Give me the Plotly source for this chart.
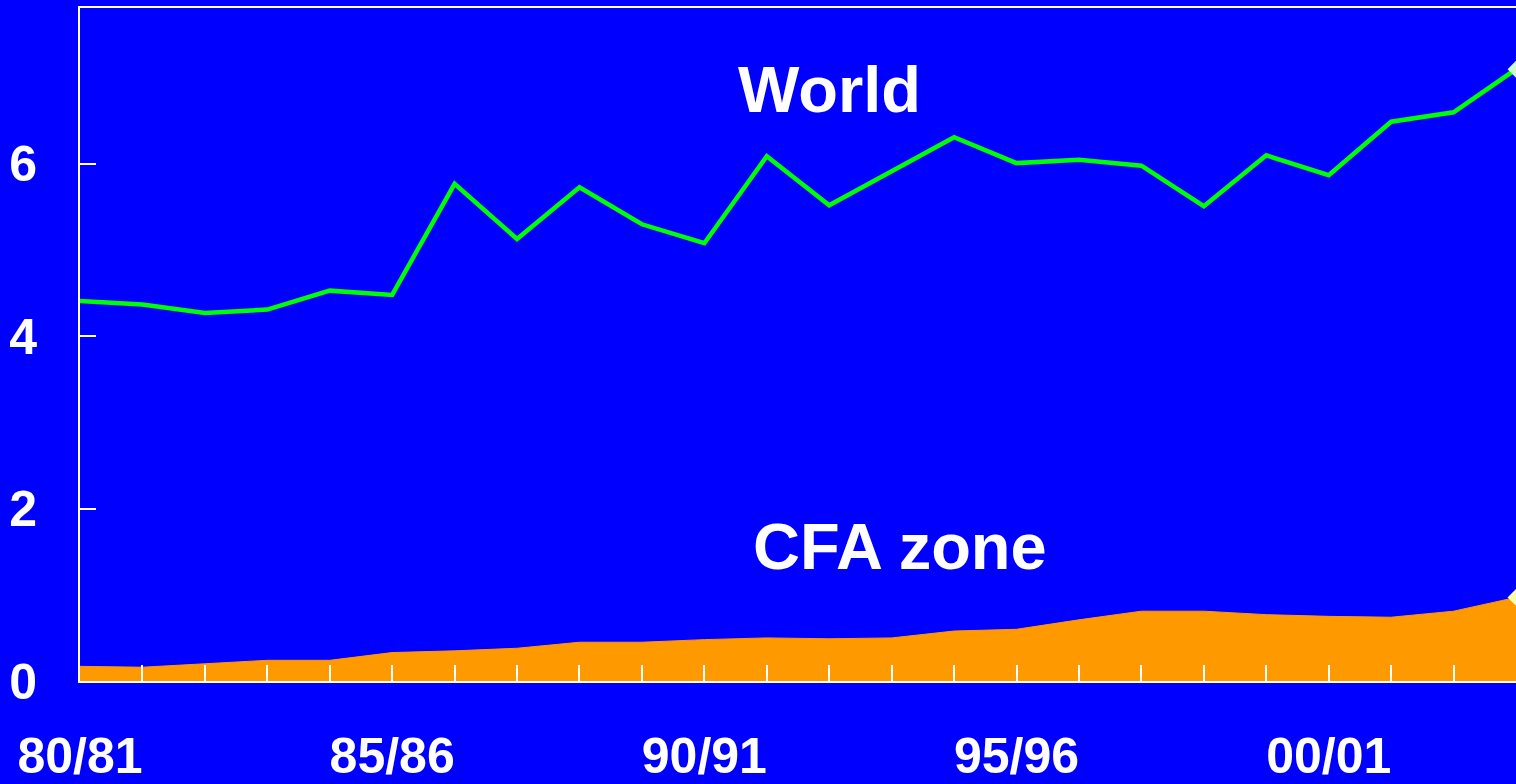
import plotly.graph_objects as go

seasons = ["80/81", "81/82", "82/83", "83/84", "84/85", "85/86", "86/87", "87/88",
           "88/89", "89/90", "90/91", "91/92", "92/93", "93/94", "94/95", "95/96",
           "96/97", "97/98", "98/99", "99/00", "00/01", "01/02", "02/03", "03/04"]
world = [4.41, 4.37, 4.27, 4.31, 4.53, 4.48, 5.77, 5.13, 5.73, 5.30, 5.08, 6.09,
         5.52, 5.92, 6.31, 6.01, 6.05, 5.98, 5.51, 6.10, 5.87, 6.49, 6.60, 7.10]
cfa = [0.17, 0.16, 0.20, 0.24, 0.24, 0.33, 0.35, 0.38, 0.45, 0.45, 0.48, 0.50,
       0.49, 0.50, 0.58, 0.60, 0.71, 0.81, 0.81, 0.77, 0.75, 0.74, 0.81, 0.97]
labelled = ["80/81", "85/86", "90/91", "95/96", "00/01"]
ytick_vals = [0, 2, 4, 6]

FONT = "Liberation Sans, Arial, sans-serif"
BLUE = "#0000FF"

fig = go.Figure()
fig.add_trace(go.Scatter(x=seasons, y=cfa, mode="lines", fill="tozeroy",
                         fillcolor="#FF9900", line=dict(color="#FF9900", width=1),
                         hoverinfo="skip"))
fig.add_trace(go.Scatter(x=seasons, y=world, mode="lines",
                         line=dict(color="#00FF00", width=4.5), hoverinfo="skip"))
fig.add_trace(go.Scatter(x=[seasons[-1]], y=[world[-1]], mode="markers",
                         marker=dict(symbol="diamond", size=13, color="#CCFFCC"),
                         hoverinfo="skip"))
fig.add_trace(go.Scatter(x=[seasons[-1]], y=[cfa[-1]], mode="markers",
                         marker=dict(symbol="diamond", size=13, color="#FFFFAA"),
                         hoverinfo="skip"))

fig.add_annotation(x=12.0, y=6.86, xref="x", yref="y", text="World", showarrow=False,
                   font=dict(family=FONT, size=65, color="white", weight="bold"),
                   xanchor="center", yanchor="middle")
fig.add_annotation(x=13.13, y=1.56, xref="x", yref="y", text="CFA zone", showarrow=False,
                   font=dict(family=FONT, size=65, color="white", weight="bold"),
                   xanchor="center", yanchor="middle")

fig.update_layout(
    width=1516, height=784,
    margin=dict(l=80, r=0, t=8, b=103),
    paper_bgcolor=BLUE, plot_bgcolor=BLUE,
    showlegend=False,
    font=dict(family=FONT, color="white", size=50, weight="bold"),
)
fig.update_xaxes(
    type="category", range=[0, len(seasons) - 1],
    tickvals=seasons, ticktext=[s if s in labelled else "" for s in seasons],
    ticks="inside", ticklen=16, tickwidth=2, tickcolor="white",
    showline=True, linecolor="white", linewidth=2, mirror=True,
    showgrid=False, zeroline=False, automargin=False,
    tickfont=dict(family=FONT, size=50, color="white", weight="bold"),
    ticklabelstandoff=30,
)
fig.update_yaxes(
    range=[0, 7.81], tickvals=ytick_vals,
    ticks="inside", ticklen=16, tickwidth=2, tickcolor="white",
    showline=True, linecolor="white", linewidth=2,
    showgrid=False, zeroline=False, automargin=False,
    tickfont=dict(family=FONT, size=50, color="white", weight="bold"),
    ticklabelstandoff=31,
)

fig.write_html(
    "out.html",
    config={"displayModeBar": False},
    post_script="document.body.style.margin='0';document.body.style.overflow='hidden';"
                "document.body.style.background='#0000FF';",
)
